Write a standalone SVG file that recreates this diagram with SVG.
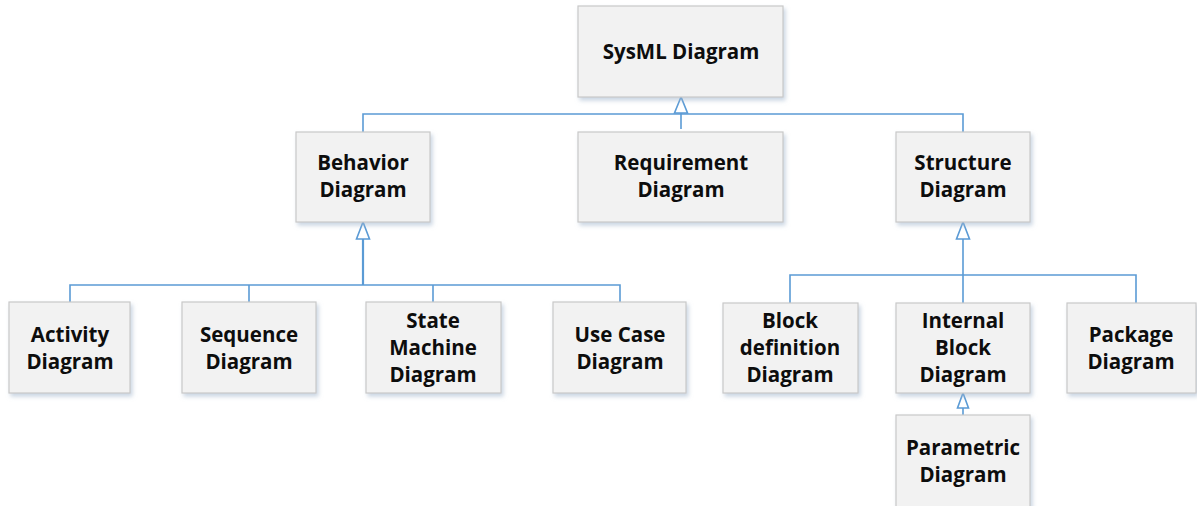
<svg xmlns="http://www.w3.org/2000/svg" width="1197" height="506" viewBox="0 0 1197 506">
  <defs>
    <filter id="shadow" x="-10%" y="-10%" width="130%" height="130%">
      <feGaussianBlur in="SourceAlpha" stdDeviation="2"/>
      <feOffset dx="1.5" dy="2.5" result="b"/>
      <feFlood flood-color="#9fb4cc" flood-opacity="0.55"/>
      <feComposite in2="b" operator="in"/>
      <feMerge><feMergeNode/><feMergeNode in="SourceGraphic"/></feMerge>
    </filter>
  </defs>
  <style>
    .box { fill: #f2f2f2; stroke: #c9c9c9; stroke-width: 1.2; filter: url(#shadow); }
    .lbl { font-family: "Open Sans", "DejaVu Sans", sans-serif; font-weight: bold; font-size: 20.5px; fill: #0d0d0d; text-anchor: middle; }
    .wire { fill: none; stroke: #5b9bd5; stroke-width: 1.6; }
    .head { fill: #ffffff; stroke: #5b9bd5; stroke-width: 1.6; stroke-linejoin: miter; }
  </style>
  <rect width="1197" height="506" fill="#ffffff"/>

  <g id="connectors">
    <!-- SysML Diagram generalisation -->
    <path class="wire" d="M681 113 V129 M363 132 V114 H963 V132"/>
    <!-- Behavior Diagram generalisation -->
    <path class="wire" d="M363 239 V285" style="stroke-width:2.2"/>
    <path class="wire" d="M70 302 V285 H620 V302 M249 285 V302 M433 285 V302"/>
    <!-- Structure Diagram generalisation -->
    <path class="wire" d="M963 239 V303 M790 303 V275 H1136 V303"/>
    <!-- Internal Block Diagram generalisation -->
    <path class="wire" d="M963 408 V415"/>
    <polygon class="head" points="681,97 674.5,113 687.5,113"/>
    <polygon class="head" points="363,222 356.5,239 369.5,239"/>
    <polygon class="head" points="963,222 956.5,239 969.5,239"/>
    <polygon class="head" points="963,393 957.5,408 968.5,408"/>
  </g>

  <g id="sysml">
    <rect class="box" x="578" y="6" width="205" height="91"/>
    <text class="lbl" x="681" y="59">SysML Diagram</text>
  </g>
  <g id="behavior">
    <rect class="box" x="296" y="132" width="134" height="90"/>
    <text class="lbl" x="363" y="170">Behavior</text>
    <text class="lbl" x="363" y="197">Diagram</text>
  </g>
  <g id="requirement">
    <rect class="box" x="578" y="132" width="205" height="90"/>
    <text class="lbl" x="681" y="170">Requirement</text>
    <text class="lbl" x="681" y="197">Diagram</text>
  </g>
  <g id="structure">
    <rect class="box" x="896" y="132" width="134" height="90"/>
    <text class="lbl" x="963" y="170">Structure</text>
    <text class="lbl" x="963" y="197">Diagram</text>
  </g>
  <g id="activity">
    <rect class="box" x="9" y="302" width="121" height="91"/>
    <text class="lbl" x="70" y="342">Activity</text>
    <text class="lbl" x="70" y="369">Diagram</text>
  </g>
  <g id="sequence">
    <rect class="box" x="182" y="302" width="134" height="91"/>
    <text class="lbl" x="249" y="342">Sequence</text>
    <text class="lbl" x="249" y="369">Diagram</text>
  </g>
  <g id="state-machine">
    <rect class="box" x="366" y="302" width="135" height="91"/>
    <text class="lbl" x="433" y="328">State</text>
    <text class="lbl" x="433" y="355">Machine</text>
    <text class="lbl" x="433" y="382">Diagram</text>
  </g>
  <g id="use-case">
    <rect class="box" x="553" y="302" width="133" height="91"/>
    <text class="lbl" x="620" y="342">Use Case</text>
    <text class="lbl" x="620" y="369">Diagram</text>
  </g>
  <g id="block-definition">
    <rect class="box" x="723" y="303" width="135" height="90"/>
    <text class="lbl" x="790" y="328">Block</text>
    <text class="lbl" x="790" y="355">definition</text>
    <text class="lbl" x="790" y="382">Diagram</text>
  </g>
  <g id="internal-block">
    <rect class="box" x="896" y="303" width="134" height="90"/>
    <text class="lbl" x="963" y="328">Internal</text>
    <text class="lbl" x="963" y="355">Block</text>
    <text class="lbl" x="963" y="382">Diagram</text>
  </g>
  <g id="package">
    <rect class="box" x="1067" y="303" width="129" height="90"/>
    <text class="lbl" x="1131" y="342">Package</text>
    <text class="lbl" x="1131" y="369">Diagram</text>
  </g>
  <g id="parametric">
    <rect class="box" x="896" y="415" width="134" height="95"/>
    <text class="lbl" x="963" y="455">Parametric</text>
    <text class="lbl" x="963" y="482">Diagram</text>
  </g>
</svg>
